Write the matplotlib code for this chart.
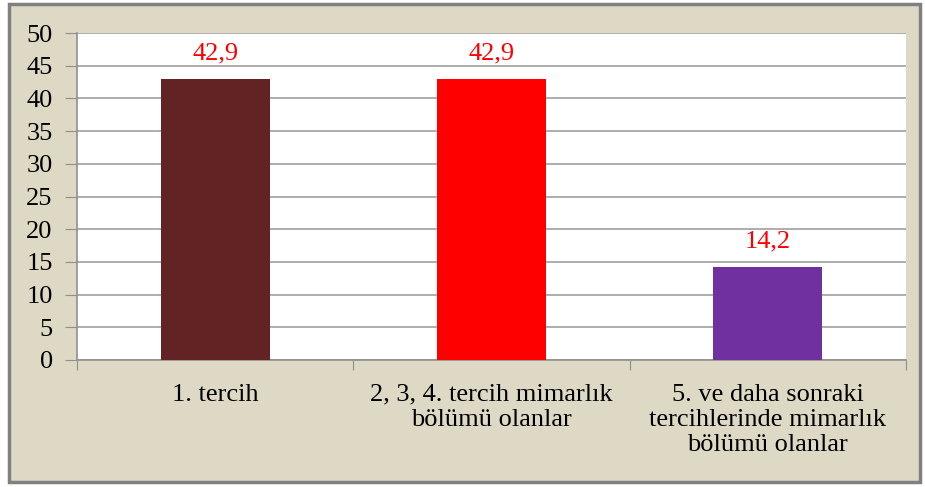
import matplotlib.pyplot as plt
from matplotlib.patches import Rectangle

categories = [
    "1. tercih",
    "2, 3, 4. tercih mimarlık\nbölümü olanlar",
    "5. ve daha sonraki\ntercihlerinde mimarlık\nbölümü olanlar",
]
values = [42.9, 42.9, 14.2]
value_labels = ["42,9", "42,9", "14,2"]
bar_colors = ["#612323", "#FF0000", "#7030A0"]


def main() -> None:
    plt.rcParams["font.family"] = ["Liberation Serif", "DejaVu Serif"]
    fig = plt.figure(figsize=(9.25, 4.87), dpi=100, facecolor="white")

    # beige chart-area panel with a grey frame
    W, H = 925, 487
    panel = Rectangle((9 / W, 1 - 482 / H), 911 / W, 478 / H,
                      transform=fig.transFigure, facecolor="#DDD9C4",
                      edgecolor="#808080", linewidth=2.5, zorder=-1)
    fig.patches.append(panel)

    ax = fig.add_axes([77 / W, 1 - 360 / H, 829 / W, 327 / H])
    ax.set_zorder(1)
    ax.set_facecolor("white")

    x = range(len(categories))
    ax.bar(x, values, width=0.395, color=bar_colors, zorder=3)
    for xi, v, lab in zip(x, values, value_labels):
        ax.text(xi, v + 2.3, lab, ha="center", va="bottom",
                color="#FF0000", fontsize=19, zorder=4)

    ax.set_xlim(-0.5, len(categories) - 0.5)
    ax.set_ylim(0, 50)
    ax.set_yticks(range(0, 51, 5))
    ax.yaxis.grid(True, color="#A0A0A0", linewidth=1.2, zorder=0)
    ax.set_axisbelow(True)

    # category boundaries carry the x tick marks
    ax.set_xticks([i - 0.5 for i in range(len(categories) + 1)])
    ax.set_xticklabels([])
    ax.set_xticks(list(x), minor=True)
    ax.set_xticklabels(categories, minor=True, fontsize=19, linespacing=1.2)
    ax.tick_params(axis="x", which="minor", length=0, pad=17)
    ax.tick_params(axis="x", which="major", length=7, color="#909090",
                   direction="out")
    ax.tick_params(axis="y", length=8.5, color="#909090", labelsize=19, pad=9)

    for side in ["top", "right"]:
        ax.spines[side].set_visible(False)
    for side in ["left", "bottom"]:
        ax.spines[side].set_color("#909090")
        ax.spines[side].set_linewidth(1.2)

    fig.savefig("out.png", dpi=100, facecolor=fig.get_facecolor())
    plt.close(fig)


if __name__ == "__main__":
    main()
